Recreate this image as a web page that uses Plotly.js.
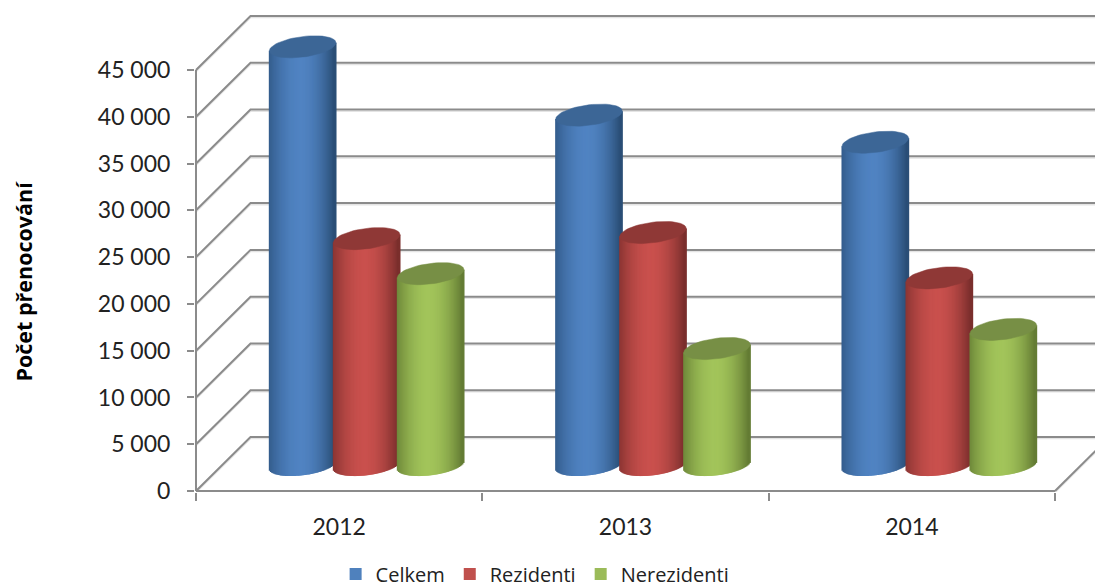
<!DOCTYPE html>
<html>
<head>
<meta charset="utf-8">
<script src="https://cdn.plot.ly/plotly-3.0.1.min.js"></script>
<style>html,body{margin:0;padding:0;background:#fff}#c{width:1095px;height:588px}</style>
</head>
<body>
<div id="c"></div>
<script>
const years = ['2012', '2013', '2014'];
const celkem = [44700, 37400, 34500];
const rezidenti = [24200, 24850, 20000];
const nerezidenti = [20450, 12450, 14500];
const yTicks = [0, 5000, 10000, 15000, 20000, 25000, 30000, 35000, 40000, 45000];
const yTitle = 'Počet přenocování';

const W = 1095, H = 588, mL = 195, mB = 96;
const xMax = years.length, yMax = 45000;
const sx = 859 / xMax, sy = 421 / yMax;    // pixels per axis unit
const ux = px => px / sx, uy = px => px / sy;
const xRange = [ux(-1), ux(W - 196)], yRange = [uy(-1), uy(491)];
const depthX = ux(54.5), depthY = uy(54);
const FONT = 'Lato, Carlito, sans-serif';
const GREY = '#8b8b8b';

const seriesDefs = [
  {name: 'Celkem', vals: celkem, off: -64, mid: [80,131,194], edgeL: [48,88,134], edgeR: [42,78,118], top: '#3c6696', sw: '#4f81bd'},
  {name: 'Rezidenti', vals: rezidenti, off: 0, mid: [201,80,77], edgeL: [132,50,48], edgeR: [122,46,44], top: '#8f3836', sw: '#c0504d'},
  {name: 'Nerezidenti', vals: nerezidenti, off: 64, mid: [162,196,90], edgeL: [104,130,54], edgeR: [100,124,52], top: '#778f45', sw: '#9bbb59'}
];
const cylA = 33.3, cylB = 10.3, cylK = -4;  // pixel radii of the cylinder's ellipse

// back-wall grid on the base subplot
function wallTrace(color, width, dyPx) {
  const xs = [], ys = [];
  yTicks.forEach(v => {
    xs.push(0, depthX, xRange[1] + 1, null);
    const y0 = v - uy(dyPx), y1 = v + depthY - uy(dyPx);
    ys.push(y0, y1, y1, null);
  });
  xs.push(xMax, xMax + depthX); ys.push(-uy(dyPx), depthY - uy(dyPx));
  return {type: 'scatter', mode: 'lines', x: xs, y: ys, xaxis: 'x', yaxis: 'y',
    line: {color, width}, showlegend: false, hoverinfo: 'skip'};
}
// the two axis lines, which stop at 45 000 and at the last category
const axisLines = {type: 'scatter', mode: 'lines', x: [0, 0, null, 0, xMax], y: [0, yMax, null, 0, 0],
  xaxis: 'x', yaxis: 'y', line: {color: GREY, width: 2}, showlegend: false, hoverinfo: 'skip'};

const traces = [wallTrace('#e4e4e4', 1.5, 1.6), wallTrace(GREY, 2, 0), axisLines];
const ellipses = [];
const N = 60;

function mix(a, b, t) {
  return 'rgb(' + a.map((c, i) => Math.round(c + (b[i] - c) * t)).join(',') + ')';
}

seriesDefs.forEach(s => {
  const cx = years.map((_, i) => i + 0.5 + ux(s.off + 27.5));
  const floor = uy(26);
  traces.push({type: 'bar', name: s.name, x: cx, y: s.vals, base: years.map(() => floor),
    width: ux(cylA * 1.2), marker: {color: s.sw, line: {width: 0}}, xaxis: 'x2', yaxis: 'y2',
    hoverinfo: 'skip'});
  const bx = [], by = [], bb = [], bc = [];
  cx.forEach((c, i) => {
    for (let j = 0; j < N; j++) {
      const u = -1 + (2 * j + 1) / N;
      bx.push(c + ux(u * cylA));
      const b = floor + uy(-cylK * u) - uy(cylB * Math.sqrt(1 - u * u));
      const t = s.vals[i] + floor + uy(-cylK * u);
      bb.push(b); by.push(t - b);
      const d = Math.min(1, Math.pow(Math.abs(u + 0.05), 1.9));
      bc.push(mix(s.mid, u < 0 ? s.edgeL : s.edgeR, d));
    }
  });
  traces.push({type: 'bar', x: bx, y: by, base: bb, width: ux(2 * cylA / N * 2),
    marker: {color: bc, line: {width: 0}}, xaxis: 'x2', yaxis: 'y2',
    showlegend: false, hoverinfo: 'skip'});
  const ex = [], ey = [];
  cx.forEach((c, i) => {
    for (let k = 0; k <= 60; k++) {
      const a = 2 * Math.PI * k / 60;
      ex.push(c + ux(cylA * Math.cos(a)));
      ey.push(s.vals[i] + floor + uy(-cylK * Math.cos(a)) + uy(cylB * Math.sin(a)));
    }
    ex.push(null); ey.push(null);
  });
  ellipses.push({type: 'scatter', mode: 'lines', x: ex, y: ey, fill: 'toself', fillcolor: s.top,
    line: {color: s.top, width: 0.5}, xaxis: 'x2', yaxis: 'y2',
    showlegend: false, hoverinfo: 'skip'});
});

const layout = {
  width: W, height: H, margin: {l: mL, r: 0, t: 0, b: mB, pad: 0},
  paper_bgcolor: '#fff', plot_bgcolor: 'rgba(0,0,0,0)', barmode: 'overlay', separators: ', ',
  showlegend: true,
  legend: {orientation: 'h', xref: 'container', yref: 'container', x: 0.3065, y: 0.0238, xanchor: 'left', yanchor: 'middle',
    font: {family: '"Open Sans", sans-serif', size: 20, color: '#222'}, traceorder: 'normal',
    bgcolor: 'rgba(0,0,0,0)'},
  xaxis: {range: xRange, tickmode: 'array', tickvals: years.map((_, i) => i + 0.5), ticktext: years,
    ticks: 'outside', ticklen: 1, tickcolor: 'rgba(0,0,0,0)', showgrid: false, zeroline: false,
    showline: false, ticklabelstandoff: 13,
    tickfont: {family: FONT, size: 23, color: '#222'},
    minor: {tickmode: 'array', tickvals: [0, 1, 2, 3], ticks: 'outside', ticklen: 8, tickwidth: 2, tickcolor: GREY, showgrid: false}},
  yaxis: {range: yRange, tickmode: 'array', tickvals: yTicks, tickformat: ',d', ticks: 'outside', ticklen: 7, tickwidth: 2,
    tickcolor: GREY, showgrid: false, zeroline: false, showline: false, ticklabelstandoff: 12,
    tickfont: {family: FONT, size: 23, color: '#222'}},
  xaxis2: {range: xRange, overlaying: 'x', visible: false, anchor: 'y2'},
  yaxis2: {range: yRange, overlaying: 'y', visible: false, anchor: 'x2'},
  annotations: [{text: yTitle, textangle: -90, xref: 'paper', yref: 'paper', x: (23 - mL) / (W - mL), y: (492 - 281.5) / 492,
    xanchor: 'center', yanchor: 'middle', showarrow: false,
    font: {family: '"Open Sans", sans-serif', size: 21.5, color: '#000', weight: 700}}]
};

Plotly.newPlot('c', traces.concat(ellipses), layout, {displayModeBar: false, staticPlot: true});
</script>
</body>
</html>
